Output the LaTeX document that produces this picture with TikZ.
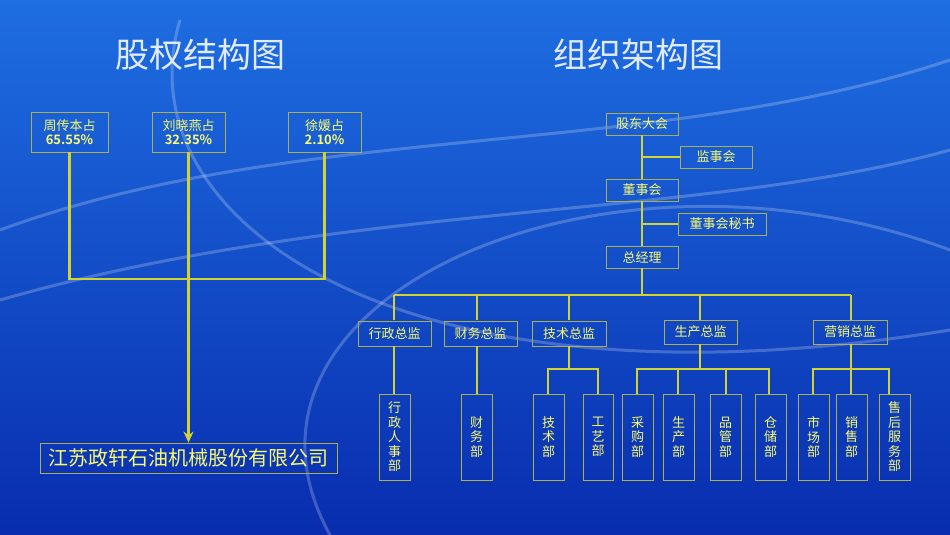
\documentclass[tikz,border=0pt]{standalone}
\usepackage{fontspec}
\setmainfont{Noto Sans CJK SC}[BoldFont={Noto Sans CJK SC Bold}]
\usetikzlibrary{arrows.meta}
\definecolor{ylw}{RGB}{250,250,110}
\definecolor{lin}{RGB}{210,210,50}
\definecolor{bdr}{RGB}{170,175,80}
\tikzset{box/.style={draw=bdr,line width=0.8pt,text=ylw,inner sep=0pt,align=center,font=\fontsize{13}{14.5}\selectfont},
 ln/.style={draw=lin,line width=2.2pt}}
\newcommand\bx[6]{\node[box,minimum width={(#4-#2)*1pt},minimum height={(#5-#3)*1pt}] (#1) at ({(#2+#4)/2},{(#3+#5)/2}) {#6};}
\begin{document}
\begin{tikzpicture}[x=1pt,y=-1pt]
\shade[top color={rgb,255:red,30;green,110;blue,225},bottom color={rgb,255:red,8;green,45;blue,175}] (0,0) rectangle (950,535);
\useasboundingbox (0,0) rectangle (950,535);
\begin{scope}[white,opacity=0.22,line width=3pt]
\draw (0,230) .. controls (300,120) and (650,160) .. (950,60);
\draw (0,300) .. controls (350,200) and (700,220) .. (950,150);
\draw (180,20) .. controls (120,220) and (400,420) .. (950,330);
\draw (330,535) .. controls (200,300) and (600,120) .. (950,250);
\end{scope}
\node[text={rgb,255:red,225;green,235;blue,255},font=\fontsize{34}{36}\selectfont] (t1) at (200,55) {股权结构图};
\node[text={rgb,255:red,225;green,235;blue,255},font=\fontsize{34}{36}\selectfont] (t2) at (638,55) {组织架构图};
% left
\bx{a}{31}{112}{108}{152}{周传本占\\\textbf{65.55\%}}
\bx{b}{152}{112}{225}{152}{刘晓燕占\\\textbf{32.35\%}}
\bx{c}{288}{112}{361}{152}{徐媛占\\\textbf{2.10\%}}
\node[box,font=\fontsize{20}{22}\selectfont,minimum width=297pt,minimum height=30pt] (co) at (188.5,458) {江苏政轩石油机械股份有限公司};
\coordinate (j) at (188,279);
\draw[ln] (a.south) |- (j) -| (c.south);
\draw[ln,-{Stealth[length=11pt,width=10pt]}] (b.south) -- (co.north);
% right
\bx{gd}{606}{113}{678}{135}{股东大会}
\bx{js}{680}{146}{752}{168}{监事会}
\bx{ds}{606}{179}{678}{201}{董事会}
\bx{ms}{678}{213}{766}{235}{董事会秘书}
\bx{zj}{606}{246}{678}{268}{总经理}
\draw[ln] (gd) -- (ds); \draw[ln] (ds) -- (zj);
\draw[ln] (642,157) -- (js.west);
\draw[ln] (642,224) -- (ms.west);
\coordinate (bus) at (642,295);
\draw[ln] (zj.south) -- (bus);
\bx{d1}{358}{321}{431}{346}{行政总监}
\bx{d2}{444}{321}{517}{346}{财务总监}
\bx{d3}{532}{321}{606}{346}{技术总监}
\bx{d4}{664}{320}{737}{344}{生产总监}
\bx{d5}{813}{320}{887}{344}{营销总监}
\draw[ln] (394,295) -- (851,295);
\foreach \n/\x in {d1/394,d2/477,d3/569,d4/700,d5/851} \draw[ln] (\x,295) -- (\x,320);
\bx{e1}{379}{394}{410}{480}{行\\政\\人\\事\\部}
\bx{e2}{461}{394}{492}{480}{财\\务\\部}
\bx{e3}{533}{394}{564}{480}{技\\术\\部}
\bx{e4}{583}{394}{613}{480}{工\\艺\\部}
\bx{e5}{622}{394}{653}{480}{采\\购\\部}
\bx{e6}{663}{394}{694}{480}{生\\产\\部}
\bx{e7}{710}{394}{741}{480}{品\\管\\部}
\bx{e8}{755}{394}{786}{480}{仓\\储\\部}
\bx{e9}{798}{394}{829}{480}{市\\场\\部}
\bx{e10}{836}{394}{867}{480}{销\\售\\部}
\bx{e11}{879}{394}{910}{480}{售\\后\\服\\务\\部}
\draw[ln] (394,346) -- (394,394);
\draw[ln] (477,346) -- (477,394);
\draw[ln] (569,346) -- (569,369);
\draw[ln] (548,394) |- (598,369) -- (598,394);
\draw[ln] (700,344) -- (700,369);
\draw[ln] (637,394) |- (769,369) -- (769,394);
\draw[ln] (678,369) -- (678,394); \draw[ln] (726,369) -- (726,394);
\draw[ln] (851,344) -- (851,394);
\draw[ln] (813,394) |- (889,369) -- (889,394);
\end{tikzpicture}
\end{document}
